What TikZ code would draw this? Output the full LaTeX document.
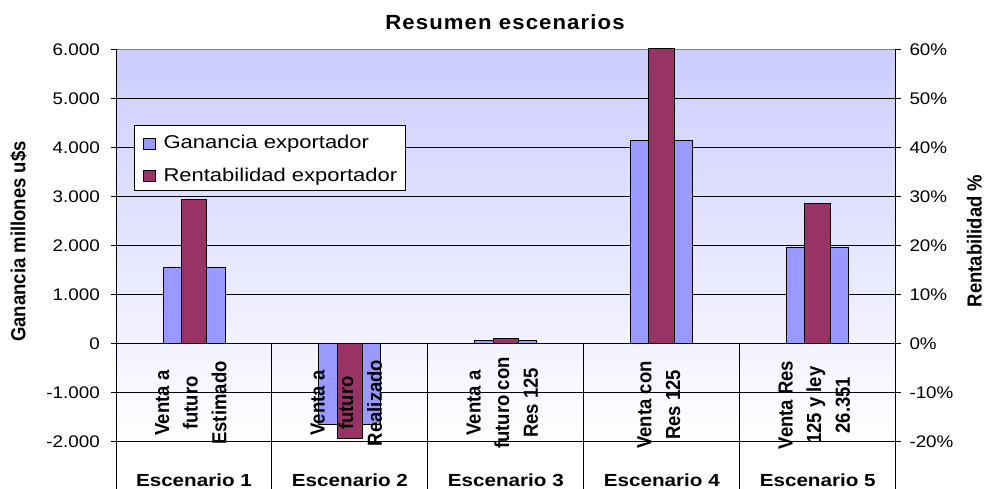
\documentclass[tikz,border=0pt]{standalone}
\usepackage{fontspec}
\setmainfont{Liberation Sans}
\definecolor{bluebar}{HTML}{9999FF}
\definecolor{purplebar}{HTML}{993366}
\definecolor{plottop}{HTML}{CCCCFF}
\newcommand{\hstretch}[2]{\scalebox{#1}[1]{#2}}
\newcommand{\rotlines}[1]{\scalebox{1.1}[1]{\rotatebox{90}{\begin{tabular}{@{}c@{}}#1\end{tabular}}}}
\tikzset{
  gridline/.style={black, line width=0.9bp},
  axisline/.style={black, line width=1bp},
  bluebox/.style={draw=black, fill=bluebar, line width=1bp},
  purplebox/.style={draw=black, fill=purplebar, line width=1bp},
  numlab/.style={inner sep=0pt, font=\fontsize{16.8bp}{20bp}\selectfont},
  catlab/.style={inner sep=0pt, font=\bfseries\fontsize{18.5bp}{26bp}\selectfont},
  scenlab/.style={anchor=base, inner sep=0pt, font=\bfseries\fontsize{17.5bp}{20bp}\selectfont},
  axtitle/.style={inner sep=0pt, font=\bfseries\fontsize{18.5bp}{22bp}\selectfont},
  legtext/.style={anchor=base west, inner sep=0pt, font=\fontsize{18.5bp}{22bp}\selectfont}
}
\begin{document}
\begin{tikzpicture}[x=1bp,y=-1bp]
\useasboundingbox (0,0) rectangle (986,489);
\fill[white] (0,0) rectangle (986,489);
% plot area
\shade[top color=plottop, bottom color=white] (116,49.5) rectangle (895.7,441.5);
\foreach \v in {-2,...,5} {
  \draw[gridline] (116,{343.5-49*\v}) -- (895.7,{343.5-49*\v});
}
\draw[gray, line width=1bp] (116,49.5) -- (895.7,49.5);
% category dividers
\foreach \i in {1,...,4} {
  \draw[axisline] ({116+155.94*\i},343.5) -- ({116+155.94*\i},489);
}
% axes
\draw[axisline] (116,49.5) -- (116,489);
\draw[axisline] (895.7,49.5) -- (895.7,489);
\foreach \v in {-2,...,6} {
  \draw[axisline] (111,{343.5-49*\v}) -- (116,{343.5-49*\v});
  \draw[axisline] (895.7,{343.5-49*\v}) -- (901,{343.5-49*\v});
}
% axis labels
\foreach \v/\l/\r in {6/6.000/60\%,5/5.000/50\%,4/4.000/40\%,3/3.000/30\%,2/2.000/20\%,1/1.000/10\%,0/0/0\%,-1/-1.000/-10\%,-2/-2.000/-20\%} {
  \node[numlab, anchor=base east] (l\v) at (100,{349.5-49*\v}) {\hstretch{1.12}{\l}};
  \node[numlab, anchor=base west] (r\v) at (909.3,{349.5-49*\v}) {\hstretch{1.12}{\r}};
}
% bars
\foreach \c/\g/\p in {194/1555/29.3, 349.9/-1650/-19.35, 505.8/70/1.06, 661.7/4147/60.3, 817.6/1963/28.6} {
  \draw[bluebox] (\c-31,343.5) rectangle (\c+31,{343.5-\g*0.049});
  \draw[purplebox] (\c-12.8,343.5) rectangle (\c+12.8,{343.5-\p*4.9});
}
% category labels
\node[catlab] (c1) at (192,403) {\rotlines{Venta a\\futuro\\Estimado}};
\node[catlab] (c2) at (347.5,403) {\rotlines{Venta a\\futuro\\Realizado}};
\node[catlab] (c3) at (503.5,403) {\rotlines{Venta a\\futuro con\\Res 125}};
\node[catlab] (c4) at (660,405) {\rotlines{Venta con\\Res 125}};
\node[catlab] (c5) at (815.5,405) {\rotlines{Venta Res\\125 y ley\\26.351}};
\foreach \i in {1,...,5} {
  \node[scenlab] (s\i) at ({116+155.94*(\i-0.5)},486) {\hstretch{1.18}{Escenario \i}};
}
% legend
\draw[black, fill=white, line width=1bp] (134,125.7) rectangle (405.7,190.7);
\draw[bluebox] (143.3,139) rectangle (155,149.5);
\draw[purplebox] (143.3,171) rectangle (155,181.5);
\node[legtext] (lg1) at (163.3,148.3) {\hstretch{1.19}{Ganancia exportador}};
\node[legtext] (lg2) at (163.3,181.7) {\hstretch{1.19}{Rentabilidad exportador}};
% titles
\node[anchor=base, inner sep=0pt, font=\bfseries\fontsize{20.5bp}{24bp}\selectfont\addfontfeatures{LetterSpace=5}] (title) at (505,30) {\hstretch{1.08}{Resumen escenarios}};
\node[axtitle] (yl) at (20.5,241.5) {\rotlines{Ganancia millones u\$s}};
\node[axtitle] (yr) at (976.8,241) {\rotlines{Rentabilidad \%}};
\end{tikzpicture}
\end{document}
